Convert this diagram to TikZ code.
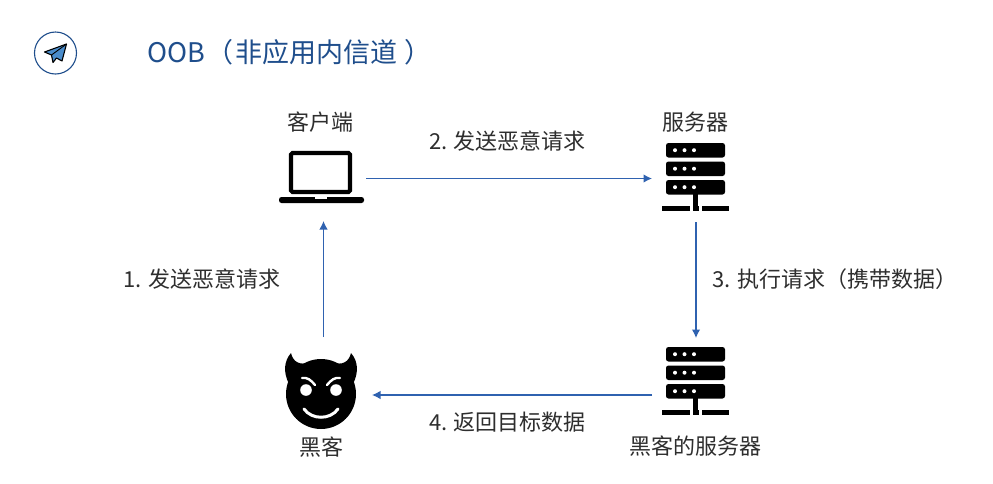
\documentclass[tikz,border=0pt]{standalone}
\usepackage{fontspec}
\setmainfont{Noto Sans CJK SC}[BoldFont=Noto Sans CJK SC]
\usetikzlibrary{arrows.meta}
\definecolor{linkblue}{HTML}{2F62B0}
\definecolor{titleblue}{HTML}{1F4E8C}
\definecolor{planeblue}{HTML}{4A8CCB}
\tikzset{
  lbl/.style={font=\fontsize{22}{26}\selectfont,text=black!82,inner sep=0pt,outer sep=0pt,anchor=center},
  icon/.style={inner sep=0pt,outer sep=0pt,minimum width=#1,minimum height=#1},
  link/.style={draw=linkblue,line width=1.3pt,-{Latex[length=8.5pt,width=8.5pt]}},
}
\newcommand{\serverglyph}[2]{%
  \begin{scope}[shift={(#1,#2)}]
    \foreach \yy in {0,18.5,37}{
      \fill[black,rounded corners=2.5pt] (666,143+\yy) rectangle (725,157.5+\yy);
      \foreach \xx in {675,684.5,694}{\fill[white] (\xx,150.2+\yy) circle (2);}
    }
    \fill[black] (693,194) rectangle (698,206);
    \fill[black] (662,206) rectangle (689.5,210.5);
    \fill[black] (693,206) rectangle (698.5,210.5);
    \fill[black] (702,206) rectangle (729,210.5);
  \end{scope}}
\begin{document}
\begin{tikzpicture}[x=1pt,y=-1pt]
\useasboundingbox (0,0) rectangle (993,483);
\fill[white] (0,0) rectangle (993,483);

% header badge
\node[circle,draw=titleblue,line width=1.1pt,minimum size=42pt,inner sep=0pt] (badge) at (55.5,53) {};
\fill[planeblue,draw=black,line width=1.1pt,line join=round]
  (66.5,44) -- (44.5,52) -- (51.5,55) -- (53,62.5) -- (56.5,58) -- (62,61) -- cycle;
\draw[black,line width=0.9pt] (66.5,44) -- (51.5,55);
\node[anchor=west,inner sep=0pt,font=\fontsize{27}{32}\selectfont,text=titleblue] (title) at (147,52) {OOB\hspace{1pt}（\hspace{2pt}非应用内信道\hspace{8pt}）};

% laptop
\node[icon=1pt] (client) at (321.5,177) {};
\draw[black,line width=4.2pt,rounded corners=1.5pt] (291,153) rectangle (350,192);
\fill[black,rounded corners=2.5pt] (279,197) rectangle (364,203);
\fill[white] (315,197) rectangle (327,199);
\node[lbl] (clientlabel) at (320.5,122) {客户端};

% server
\serverglyph{0}{0}
\node[icon=1pt] (server) at (695.5,177) {};
\node[lbl] (serverlabel) at (695,122) {服务器};

% attacker server
\serverglyph{0}{204}
\node[icon=1pt] (evilserver) at (695.5,381) {};
\node[lbl] (evilserverlabel) at (695,446) {黑客的服务器};

% devil
\node[icon=1pt] (hacker) at (321,395) {};
\fill[black] (321,394) circle (35);
\fill[black] (289,384) .. controls (283,372) and (284,361) .. (291,353)
  .. controls (293,362) and (300,366) .. (310,362) -- (300,385) -- cycle;
\fill[black] (353,384) .. controls (359,372) and (358,361) .. (351,353)
  .. controls (349,362) and (342,366) .. (332,362) -- (342,385) -- cycle;
\fill[white] (306,390) circle (5.8);
\fill[white] (336,390) circle (5.8);
\draw[white,line width=2.4pt,line cap=round] (302,378) .. controls (307,377) and (311,380) .. (315,385);
\draw[white,line width=2.4pt,line cap=round] (340,378) .. controls (335,377) and (331,380) .. (327,385);
\draw[white,line width=3pt,line cap=round] (304,409) .. controls (312,420) and (330,420) .. (338,409);
\node[lbl] (hackerlabel) at (321,447) {黑客};

% connectors
\coordinate (c1s) at (323.5,337);
\coordinate (c1e) at (323.5,221);
\coordinate (c2s) at (366,178.5);
\coordinate (c2e) at (652,178.5);
\coordinate (c3s) at (696,222);
\coordinate (c3e) at (696,338);
\coordinate (c4s) at (652,395);
\coordinate (c4e) at (372,395);
\draw[link] (c1s) -- (c1e);
\draw[link] (c2s) -- (c2e);
\draw[link] (c3s) -- (c3e);
\draw[link] (c4s) -- (c4e);

% connector labels
\node[lbl] (l1) at (202,279) {1. 发送恶意请求};
\node[lbl] (l2) at (507.5,141) {2. 发送恶意请求};
\node[lbl] (l3) at (835,279) {3. 执行请求（携带数据）};
\node[lbl] (l4) at (507.5,422) {4. 返回目标数据};
\end{tikzpicture}
\end{document}
